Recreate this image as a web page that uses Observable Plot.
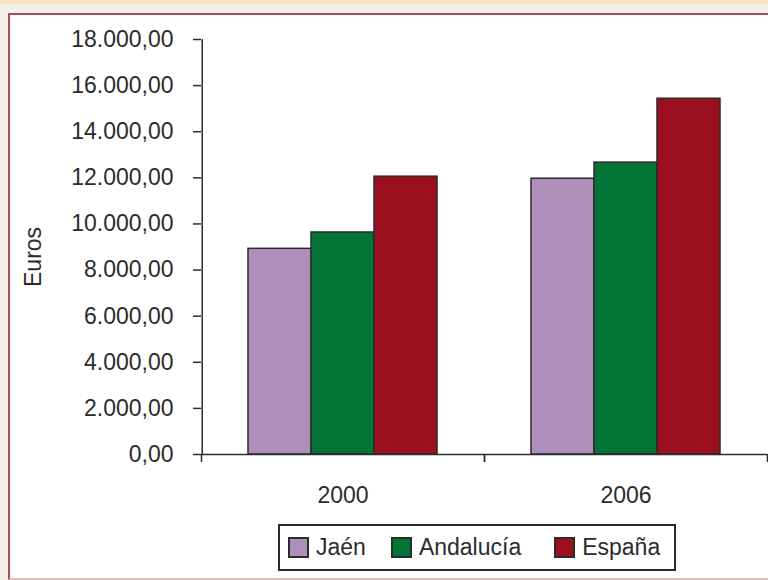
<!DOCTYPE html>
<html>
<head>
<meta charset="utf-8">
<script src="https://cdn.jsdelivr.net/npm/d3@7"></script>
<script src="https://cdn.jsdelivr.net/npm/@observablehq/plot@0.6"></script>
<style>
  html, body { margin: 0; padding: 0; }
  body { width: 768px; height: 580px; overflow: hidden; background: #f5efe9; position: relative;
         font-family: "Liberation Sans", Arial, sans-serif; color: #2b2b2b; }
  #strip { position: absolute; left: 0; top: 0; width: 768px; height: 4px; background: #fde2c4; }
  #frame { position: absolute; left: 8px; top: 13px; width: 780px; height: 563px; background: #fff;
           border-left: 2px solid #a84f55; border-top: 2px solid #a84f55; border-bottom: 2px solid #dcbcbc; }
  #chart { position: absolute; left: 10px; top: 15px; }
  #legend { position: absolute; left: 278px; top: 524px; width: 394px; height: 43px;
            border: 2px solid #2b2b2b; background: #fff; display: flex; align-items: center;
            box-sizing: content-box; font-size: 23px; }
  .item { display: flex; align-items: center; }
  .sw { width: 17px; height: 17px; border: 2px solid #2b2b2b; margin-right: 7px; }
</style>
</head>
<body>
<div id="strip"></div>
<div id="frame"></div>
<div id="chart"></div>
<div id="legend"></div>
<script>
const years = ["2000", "2006"];
const series = ["Jaén", "Andalucía", "España"];
const jaen = [8920, 11960];
const andalucia = [9630, 12660];
const espana = [12050, 15430];
const colors = ["#ae8fba", "#027435", "#9b0f1f"];
const yTicks = [0, 2000, 4000, 6000, 8000, 10000, 12000, 14000, 16000, 18000];
const yLabel = "Euros";

const valuesBySeries = [jaen, andalucia, espana];
const rows = [];
years.forEach((yr, i) => series.forEach((s, j) => rows.push({year: yr, series: s, value: valuesBySeries[j][i]})));

const fmt = d3.formatLocale({decimal: ",", thousands: ".", grouping: [3], currency: ["", ""]}).format(",.2f");

const W = 758, ML = 191, MR = 1;
const padOuter = 0.72;
const fw = (W - ML - MR) / years.length;
const step = fw / (series.length + 2 * padOuter);
const ink = "#2b2b2b";

const chart = Plot.plot({
  width: W, height: 500,
  marginLeft: ML, marginRight: MR, marginTop: 24, marginBottom: 61,
  style: {fontFamily: '"Liberation Sans", Arial, sans-serif', fontSize: "23px", color: ink, background: "transparent", overflow: "visible"},
  fx: {domain: years, padding: 0, axis: null, label: null},
  x: {domain: series, paddingInner: 0, paddingOuter: padOuter, axis: null},
  y: {domain: [0, 18000], axis: null},
  color: {domain: series, range: colors},
  marks: [
    Plot.barY(rows, {fx: "year", x: "series", y: "value", fill: "series", stroke: ink, strokeWidth: 1.5}),
    Plot.ruleY([0], {stroke: ink, strokeWidth: 1.5}),
    Plot.ruleX([{year: years[0], s: series[0]}], {fx: "year", x: "s", y1: 0, y2: 18000, dx: -(0.5 + padOuter) * step, stroke: ink, strokeWidth: 1.5}),
    Plot.axisY({ticks: yTicks, tickFormat: fmt, tickSize: 8, tickPadding: 20, label: null, strokeWidth: 1.5}),
    Plot.axisFx({anchor: "bottom", tickSize: 0, tickPadding: 32, label: null}),
    Plot.axisFx({anchor: "bottom", tickSize: 8, tickFormat: () => "", dx: -fw / 2, label: null, strokeWidth: 1.5}),
    Plot.axisFx({anchor: "bottom", tickSize: 8, tickFormat: () => "", dx: fw / 2, label: null, strokeWidth: 1.5}),
    Plot.text([{year: years[0], t: yLabel}], {fx: "year", text: "t", frameAnchor: "left", rotate: -90, dx: -168, dy: 40, fill: ink})
  ]
});
document.getElementById("chart").appendChild(chart);

const legend = d3.select("#legend");
const gaps = [25, 33, 0];
series.forEach((s, i) => {
  const it = legend.append("div").attr("class", "item")
    .style("margin-left", i === 0 ? "8px" : null)
    .style("margin-right", gaps[i] + "px");
  it.append("div").attr("class", "sw").style("background", colors[i]);
  it.append("span").text(s);
});
</script>
</body>
</html>
